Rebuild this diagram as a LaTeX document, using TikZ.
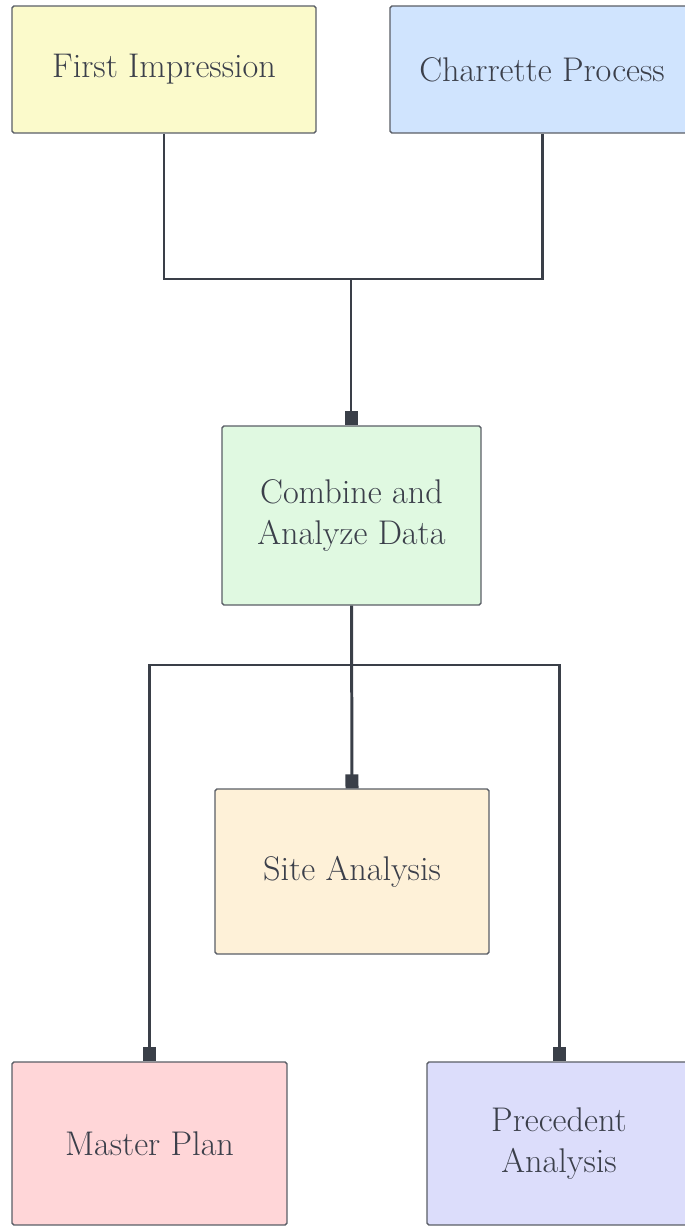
\documentclass[tikz,border=0pt]{standalone}
\usetikzlibrary{arrows.meta}
\definecolor{linec}{HTML}{3A3F48}
\definecolor{txtc}{HTML}{3B3F4A}
\definecolor{borderc}{HTML}{5A5E66}
\definecolor{cyellow}{HTML}{FBFACB}
\definecolor{cblue}{HTML}{D0E4FE}
\definecolor{cgreen}{HTML}{E0F9E1}
\definecolor{corange}{HTML}{FEF1D8}
\definecolor{cpink}{HTML}{FFD6D8}
\definecolor{clav}{HTML}{DCDDFB}
\tikzset{
  box/.style={draw=borderc, line width=0.8pt, rounded corners=1pt, align=center,
    text=txtc, font=\fontsize{19.5}{23.5}\selectfont, inner sep=0pt},
  conn/.style={draw=linec, line width=1.7pt},
  tipconn/.style={conn, -{Square[length=7.9pt,width=7.4pt]}},
}
\begin{document}
\begin{tikzpicture}[x=0.02cm,y=-0.02cm]
\useasboundingbox (0,0) rectangle (684,1226);
\fill[white] (0,0) rectangle (684,1226);
\node[box, fill=cyellow, minimum width=6.08cm, minimum height=2.54cm] (first) at (164,69.5) {First Impression};
\node[box, fill=cblue, minimum width=6.08cm, minimum height=2.54cm] (charrette) at (542,69.5) {Charrette Process};
\node[box, fill=cgreen, minimum width=5.18cm, minimum height=3.58cm] (combine) at (351.5,515.5) {Combine and\\Analyze Data};
\node[box, fill=corange, minimum width=5.48cm, minimum height=3.30cm] (site) at (352,871.5) {Site Analysis};
\node[box, fill=cpink, minimum width=5.50cm, minimum height=3.26cm] (master) at (149.5,1143.5) {Master Plan};
\node[box, fill=clav, minimum width=5.28cm, minimum height=3.26cm] (precedent) at (559,1143.5) {Precedent\\Analysis};
\coordinate (j1) at (351,279);
\coordinate (j2) at (351,665);
\draw[conn] (first.south) |- (j1);
\draw[conn] (charrette.south) |- (j1);
\draw[tipconn] (j1) -- (combine.north -| j1);
\draw[tipconn] (combine.south) -- (site.north);
\draw[tipconn] (j2) -| (master.north);
\draw[tipconn] (j2) -| (precedent.north);
\end{tikzpicture}
\end{document}
